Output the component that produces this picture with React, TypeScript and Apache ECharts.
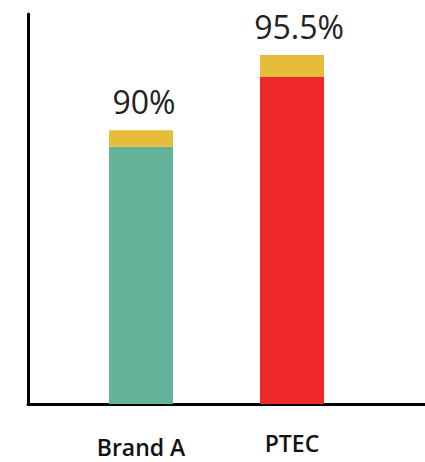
import React, { useEffect, useRef } from "react";
import * as echarts from "echarts";

const categories = ["Brand A", "PTEC"];
const baseValues = [88.8, 93.9];
const capValues = [1.2, 1.6];
const totalLabels = ["90%", "95.5%"];
const baseColors = ["#63B39A", "#EF2929"];
const capColor = "#E6BD3A";

export default function App() {
  const ref = useRef<HTMLDivElement>(null);
  useEffect(() => {
    if (!ref.current) return;
    const chart = echarts.init(ref.current, null, { renderer: "svg" });
    const labelShift = [[3, 0], [7, 0]];
    const catPad = [[4, 0, 0, 0], [0, 0, 0, 0]];
    chart.setOption({
      animation: false,
      grid: [
        { left: 28, top: 14, right: 0, bottom: 58 },
        { left: 65.5, top: 14, right: 57.5, bottom: 58 },
      ],
      xAxis: [
        {
          gridIndex: 0,
          type: "value",
          min: 0,
          max: 1,
          axisLine: { show: true, lineStyle: { color: "#000", width: 3 } },
          axisTick: { show: false },
          axisLabel: { show: false },
          splitLine: { show: false },
        },
        {
          gridIndex: 1,
          type: "category",
          data: categories.map((c, i) => ({ value: c, textStyle: { padding: catPad[i] } })),
          axisLine: { show: false },
          axisTick: { show: false },
          axisLabel: {
            margin: 27,
            fontFamily: "Open Sans",
            fontWeight: 600,
            fontSize: 23,
            color: "#111",
          },
        },
      ],
      yAxis: [
        {
          gridIndex: 0,
          type: "value",
          min: 0,
          max: 1,
          axisLine: { show: true, lineStyle: { color: "#000", width: 3 } },
          axisTick: { show: false },
          axisLabel: { show: false },
          splitLine: { show: false },
        },
        {
          gridIndex: 1,
          type: "value",
          min: 70,
          max: 98.5,
          axisLine: { show: false },
          axisTick: { show: false },
          axisLabel: { show: false },
          splitLine: { show: false },
        },
      ],
      series: [
        {
          type: "bar",
          xAxisIndex: 1,
          yAxisIndex: 1,
          stack: "total",
          barWidth: 64,
          data: baseValues.map((v, i) => ({ value: v, itemStyle: { color: baseColors[i] } })),
        },
        {
          type: "bar",
          xAxisIndex: 1,
          yAxisIndex: 1,
          stack: "total",
          barWidth: 64,
          itemStyle: { color: capColor },
          label: {
            show: true,
            position: "top",
            distance: 13,
            fontFamily: "Open Sans",
            fontSize: 32,
            color: "#222",
            formatter: (p: any) => totalLabels[p.dataIndex],
          },
          data: capValues.map((v, i) => ({ value: v, label: { offset: labelShift[i] } })),
        },
      ],
    });
    return () => chart.dispose();
  }, []);
  return <div ref={ref} style={{ width: 425, height: 462, position: "absolute", left: 0, top: 0 }} />;
}
